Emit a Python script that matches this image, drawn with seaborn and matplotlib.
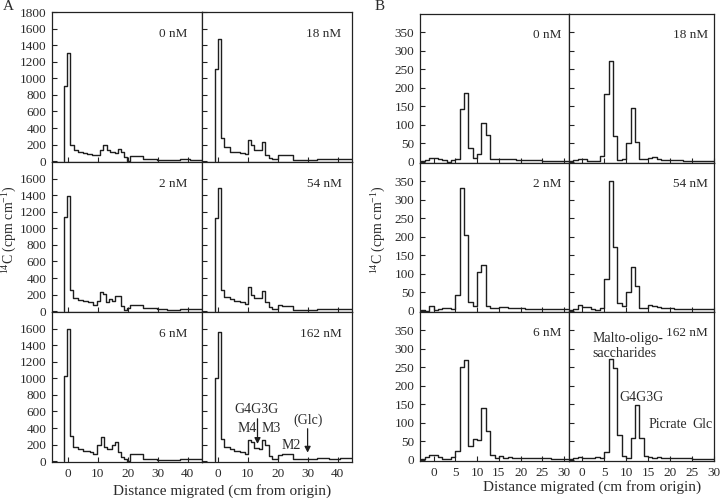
import numpy as np
import matplotlib
matplotlib.use("Agg")
import matplotlib.pyplot as plt
import seaborn as sns

# ---------------- Data: panel A (variable-width segments) ----------------
A_concs = ["0 nM", "18 nM", "2 nM", "54 nM", "6 nM", "162 nM"]

A0_edges = [-1.3, -0.2, 0.9, 2.0, 3.5, 5.0, 6.5, 8.0, 10.8, 11.9, 13.0, 14.1, 15.8, 16.9, 17.7, 18.8, 19.7, 20.8, 25.0, 29.7, 37.4, 40.8, 45]
A0_vals = [910, 1310, 200, 135, 115, 100, 90, 80, 140, 190, 130, 110, 100, 150, 110, 50, 5, 60, 32, 16, 28, 20]

A2_edges = [-1.3, -0.2, 0.9, 1.9, 3.5, 5.2, 6.9, 8.6, 9.7, 10.8, 11.9, 12.8, 13.9, 14.7, 15.8, 17.8, 18.8, 19.7, 20.8, 25.0, 29.7, 33.0, 37.4, 40.8, 45]
A2_vals = [1140, 1390, 250, 155, 140, 128, 105, 80, 128, 228, 208, 108, 148, 128, 180, 68, 20, 36, 76, 36, 24, 16, 32, 24]

A6_edges = [-1.3, -0.2, 0.9, 1.9, 3.5, 5.2, 7.4, 8.6, 9.9, 11.0, 12.1, 13.2, 14.7, 15.8, 16.9, 17.8, 18.8, 19.7, 20.8, 25.0, 29.7, 37.4, 45]
A6_vals = [1030, 1590, 300, 170, 145, 120, 110, 90, 197, 293, 170, 145, 190, 230, 110, 56, 28, 8, 88, 28, 20, 24]

A18_edges = [-1.0, 0.0, 1.2, 2.2, 4.2, 5.3, 7.6, 9.0, 10.0, 11.0, 12.0, 14.8, 15.9, 17.0, 18.1, 20.1, 21.4, 25.1, 33.1, 37.0, 45]
A18_vals = [1110, 1470, 275, 165, 115, 105, 95, 85, 250, 195, 140, 235, 80, 40, 30, 70, 80, 20, 25, 25]

A54_edges = [-1.0, 0.0, 1.2, 2.2, 4.2, 5.3, 7.6, 9.0, 10.1, 11.1, 12.0, 14.8, 15.9, 17.0, 18.1, 20.1, 21.4, 25.1, 33.1, 37.0, 45]
A54_vals = [1128, 1488, 256, 168, 148, 120, 108, 88, 290, 196, 156, 240, 108, 48, 28, 80, 68, 20, 32, 24]

A162_edges = [-1.0, 0.0, 1.2, 2.2, 4.2, 5.3, 7.6, 9.0, 10.0, 11.1, 12.0, 13.7, 14.8, 15.9, 17.0, 18.1, 20.1, 21.4, 25.1, 33.1, 37.0, 40.9, 45]
A162_vals = [1000, 1560, 270, 177, 150, 120, 110, 90, 250, 230, 160, 150, 250, 190, 68, 28, 76, 88, 28, 36, 24, 36]

# ---------------- Data: panel B (1 cm bins from -3 to 31) ----------------
B_edges = list(range(-3, 32))
B0_vals = [2, 5, 10, 10, 9, 6, 1, 5, 8, 142, 186, 37, 10, 22, 105, 72, 8, 7, 8, 8, 9, 7, 6, 6, 5, 5, 5, 4, 3, 3, 3, 3, 3, 3]
B2_vals = [2, 1, 13, 2, 6, 8, 8, 5, 43, 332, 205, 23, 14, 106, 125, 12, 9, 8, 11, 10, 9, 8, 8, 7, 6, 5, 5, 5, 4, 4, 4, 4, 4, 4]
B6_vals = [2, 7, 13, 13, 7, 3, 3, 8, 24, 250, 270, 37, 57, 54, 141, 79, 13, 4, 10, 5, 8, 4, 4, 4, 4, 4, 4, 4, 4, 4, 3, 3, 3, 3]
B18_vals = [3, 6, 8, 8, 3, 3, 3, 17, 184, 272, 70, 5, 8, 52, 145, 55, 8, 9, 10, 12, 8, 6, 5, 4, 4, 4, 3, 3, 3, 3, 2, 2, 2, 2]
B54_vals = [3, 6, 16, 10, 10, 6, 2, 7, 85, 350, 172, 22, 12, 50, 120, 66, 9, 9, 16, 13, 10, 9, 8, 7, 6, 6, 5, 5, 5, 5, 4, 4, 4, 4]
B162_vals = [2, 4, 9, 5, 5, 5, 9, 5, 21, 273, 249, 67, 11, 5, 59, 148, 59, 10, 9, 4, 9, 5, 5, 4, 4, 4, 4, 4, 3, 3, 3, 3, 3, 3]

A_xticks = [0, 10, 20, 30, 40]
A_yticks_top = [0, 200, 400, 600, 800, 1000, 1200, 1400, 1600, 1800]
A_yticks = [0, 200, 400, 600, 800, 1000, 1200, 1400, 1600]
B_xticks = [0, 5, 10, 15, 20, 25, 30]
B_yticks = [0, 50, 100, 150, 200, 250, 300, 350]

# ---------------- Style ----------------
sns.set_style("ticks")
plt.rcParams["font.family"] = ["Liberation Serif", "DejaVu Serif"]
plt.rcParams["mathtext.fontset"] = "custom"
plt.rcParams["mathtext.rm"] = "Liberation Serif"
plt.rcParams["mathtext.it"] = "Liberation Serif:italic"
plt.rcParams["axes.linewidth"] = 0.9
LINE = "#1e1e1e"
TXT = "#2a2a2a"
FS_TICK = 9.5
FS_CONC = 9.5
FS_ANN = 10
FS_LAB = 11
FS_YLAB = 10

W, H = 720, 498
fig = plt.figure(figsize=(W / 100, H / 100), dpi=100)
fig.patch.set_facecolor("white")


def add_ax(x0, x1, y0, y1):
    return fig.add_axes([x0 / W, 1 - y1 / H, (x1 - x0) / W, (y1 - y0) / H])


def step_xy(edges, vals, zero_start=True):
    xs = ([edges[0]] if zero_start else []) + list(edges[:-1]) + [edges[-1]]
    ys = ([0] if zero_start else []) + list(vals) + [vals[-1]]
    return np.array(xs, float), np.array(ys, float)


def draw(ax, edges, vals, zero_start=True):
    xs, ys = step_xy(edges, vals, zero_start)
    sns.lineplot(x=xs, y=ys, ax=ax, estimator=None, sort=False,
                 drawstyle="steps-post", color=LINE, linewidth=1.0)
    ax.set_xlabel("")
    ax.set_ylabel("")


def style(ax, xticks, yticks, show_x, show_y):
    ax.set_xticks(xticks)
    ax.set_yticks(yticks)
    ax.tick_params(direction="in", length=3.5, width=0.8, labelsize=FS_TICK,
                   pad=4, colors="#222222", labelcolor=TXT)
    ax.tick_params(axis="x", labelbottom=show_x)
    ax.tick_params(axis="y", labelleft=show_y)
    for s in ax.spines.values():
        s.set_visible(True)
        s.set_color("#222222")


# ---------------- Panel A ----------------
A_data = [(A0_edges, A0_vals), (A18_edges, A18_vals),
          (A2_edges, A2_vals), (A54_edges, A54_vals),
          (A6_edges, A6_vals), (A162_edges, A162_vals)]
A_cols = [(52, 202), (202, 352)]
A_rows = [(12, 162), (162, 312), (312, 462)]
A_label_x = [0.90, 0.93]
A_axes = []
for i, (edges, vals) in enumerate(A_data):
    r, c = divmod(i, 2)
    ax = add_ax(A_cols[c][0], A_cols[c][1], A_rows[r][0], A_rows[r][1])
    draw(ax, edges, vals)
    ax.set_xlim(-5.2, 44.8)
    ax.set_ylim(-10, 1800)
    style(ax, A_xticks, A_yticks_top if r == 0 else A_yticks, r == 2, c == 0)
    ax.text(A_label_x[c], 0.855, A_concs[i], transform=ax.transAxes,
            ha="right", va="center", fontsize=FS_CONC, color=TXT)
    A_axes.append(ax)

# annotations on A 162 nM
ax = A_axes[5]
ax.text(13.1, 623, "G4G3G", ha="center", va="center", fontsize=FS_ANN, color=TXT)
ax.annotate("", xy=(13.3, 175), xytext=(13.3, 545),
            arrowprops=dict(arrowstyle="-|>,head_width=0.18,head_length=0.35",
                            color=LINE, lw=0.9))
ax.text(9.8, 390, "M4", ha="center", va="center", fontsize=FS_ANN, color=TXT)
ax.text(17.8, 390, "M3", ha="center", va="center", fontsize=FS_ANN, color=TXT)
ax.text(24.4, 189, "M2", ha="center", va="center", fontsize=FS_ANN, color=TXT)
ax.text(30.3, 490, "(Glc)", ha="center", va="center", fontsize=FS_ANN, color=TXT)
ax.annotate("", xy=(30.0, 70), xytext=(30.0, 425),
            arrowprops=dict(arrowstyle="-|>,head_width=0.18,head_length=0.35",
                            color=LINE, lw=0.9))

# ---------------- Panel B ----------------
B_concs = ["0 nM", "18 nM", "2 nM", "54 nM", "6 nM", "162 nM"]
B_data = [B0_vals, B18_vals, B2_vals, B54_vals, B6_vals, B162_vals]
B_cols = [(420, 569), (569, 714)]
B_xlims = [(-3.15, 31.15), (-3.0, 30.0)]
B_rows = [(14, 163), (163, 312), (312, 461)]
B_label_x = [0.95, 0.96]
B_axes = []
for i, vals in enumerate(B_data):
    r, c = divmod(i, 2)
    ax = add_ax(B_cols[c][0], B_cols[c][1], B_rows[r][0], B_rows[r][1])
    draw(ax, B_edges, vals, zero_start=False)
    ax.set_xlim(*B_xlims[c])
    ax.set_ylim(-3, 400)
    style(ax, B_xticks, B_yticks, r == 2, c == 0)
    ax.text(B_label_x[c], 0.86, B_concs[i], transform=ax.transAxes,
            ha="right", va="center", fontsize=FS_CONC, color=TXT)
    B_axes.append(ax)

ax = B_axes[5]
ax.text(2.3, 328, "Malto-oligo-", ha="left", va="center", fontsize=FS_ANN, color=TXT)
ax.text(2.3, 289, "saccharides", ha="left", va="center", fontsize=FS_ANN, color=TXT)
ax.text(13.4, 170, "G4G3G", ha="center", va="center", fontsize=FS_ANN, color=TXT)
ax.text(15.2, 97, "Picrate", ha="left", va="center", fontsize=FS_ANN, color=TXT)
ax.text(25.0, 97, "Glc", ha="left", va="center", fontsize=FS_ANN, color=TXT)

# ---------------- Figure-level texts ----------------
ylab = r"$^{14}$C (cpm cm$^{-1}$)"
fig.text(10 / W, 1 - 230 / H, ylab, rotation=90, ha="center", va="center",
         fontsize=FS_YLAB, color=TXT)
fig.text(379 / W, 1 - 230 / H, ylab, rotation=90, ha="center", va="center",
         fontsize=FS_YLAB, color=TXT)
fig.text(222 / W, 1 - 491 / H, "Distance migrated (cm from origin)",
         ha="center", va="center", fontsize=FS_LAB, color=TXT)
fig.text(592 / W, 1 - 487 / H, "Distance migrated (cm from origin)",
         ha="center", va="center", fontsize=FS_LAB, color=TXT)
fig.text(8 / W, 1 - 6 / H, "A", ha="center", va="center", fontsize=FS_LAB, color=TXT)
fig.text(380 / W, 1 - 6 / H, "B", ha="center", va="center", fontsize=FS_LAB, color=TXT)

fig.savefig("out.png", dpi=100, facecolor="white")
